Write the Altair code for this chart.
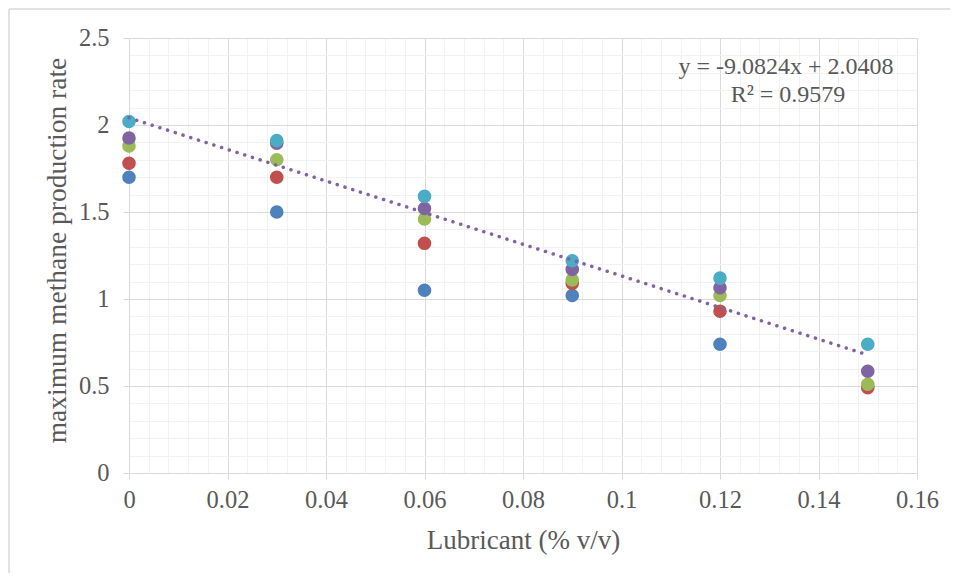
import altair as alt
import pandas as pd

# ---- data ----
lubricant = [0, 0.03, 0.06, 0.09, 0.12, 0.15]
series_names = ["Series1", "Series2", "Series3", "Series4", "Series5"]
series1 = [1.70, 1.50, 1.05, 1.02, 0.74, 0.50]
series2 = [1.78, 1.70, 1.32, 1.09, 0.93, 0.49]
series3 = [1.88, 1.80, 1.46, 1.11, 1.02, 0.51]
series4 = [1.925, 1.895, 1.52, 1.17, 1.065, 0.585]
series5 = [2.02, 1.91, 1.59, 1.22, 1.12, 0.74]
series_colors = ["#4F81BD", "#C0504D", "#9BBB59", "#8064A2", "#4BACC6"]

x_major = [0, 0.02, 0.04, 0.06, 0.08, 0.1, 0.12, 0.14, 0.16]
x_minor = [round(i * 0.004, 3) for i in range(41)]
y_major = [0, 0.5, 1, 1.5, 2, 2.5]
y_minor = [round(i * 0.1, 1) for i in range(26)]

equation_line1 = "y = -9.0824x + 2.0408"
equation_line2 = "R² = 0.9579"

rows = []
for name, vals in zip(series_names, [series1, series2, series3, series4, series5]):
    for xv, yv in zip(lubricant, vals):
        rows.append({"series": name, "x": xv, "y": yv})
df = pd.DataFrame(rows)

FONT = "Liberation Serif"
TXT = "#595959"
GRID = "#d9d9d9"
MINOR = "#f2f2f2"

xscale = alt.Scale(domain=[0, 0.16], nice=False, zero=False)
yscale = alt.Scale(domain=[0, 2.5], nice=False, zero=False)

base = alt.Chart(df)

minor_grid = base.mark_circle(opacity=0).encode(
    x=alt.X("x:Q", scale=xscale, axis=alt.Axis(
        orient="bottom", values=x_minor, grid=True, gridColor=MINOR, gridWidth=1,
        labels=False, ticks=False, domain=False, title=None)),
    y=alt.Y("y:Q", scale=yscale, axis=alt.Axis(
        orient="left", values=y_minor, grid=True, gridColor=MINOR, gridWidth=1,
        labels=False, ticks=False, domain=False, title=None)),
)

points = base.mark_circle(opacity=1, size=185).encode(
    x=alt.X("x:Q", scale=xscale, axis=alt.Axis(
        orient="bottom", values=x_major, format="~g", grid=True, gridColor=GRID,
        domainColor=GRID, tickColor=GRID, tickSize=6, labelPadding=9,
        labelFlush=False, labelOverlap=False,
        labelFont=FONT, labelFontSize=24.5, labelColor=TXT,
        title="Lubricant (% v/v)", titleFont=FONT, titleFontSize=27,
        titleFontWeight="normal", titleColor=TXT, titlePadding=16)),
    y=alt.Y("y:Q", scale=yscale, axis=alt.Axis(
        orient="left", values=y_major, format="~g", grid=True, gridColor=GRID,
        domainColor=GRID, tickColor=GRID, tickSize=6, labelPadding=14,
        labelFlush=False, labelOverlap=False,
        labelFont=FONT, labelFontSize=24.5, labelColor=TXT,
        title="maximum methane production rate", titleFont=FONT, titleFontSize=27.5,
        titleFontWeight="normal", titleColor=TXT, titlePadding=7, titleY=212)),
    color=alt.Color("series:N", scale=alt.Scale(domain=series_names, range=series_colors),
                    legend=None),
)

trend = base.transform_filter(
    alt.datum.series == "Series4"
).transform_regression("x", "y", extent=[0, 0.15]).mark_line(
    color="#8064A2", strokeWidth=3.5, strokeDash=[0.1, 8], strokeCap="round"
).encode(
    x=alt.X("x:Q", scale=xscale, axis=None),
    y=alt.Y("y:Q", scale=yscale, axis=None),
)

one = pd.DataFrame({"k": [0]})
eq1 = alt.Chart(one).mark_text(
    font=FONT, fontSize=24, color=TXT, align="center", baseline="alphabetic",
    text=equation_line1
).encode(x=alt.value(657), y=alt.value(36))
eq2 = alt.Chart(one).mark_text(
    font=FONT, fontSize=24, color=TXT, align="center", baseline="alphabetic",
    text=equation_line2
).encode(x=alt.value(659), y=alt.value(64))

border_left = alt.Chart(one).mark_rule(color=GRID, strokeWidth=1.5).encode(
    x=alt.value(-120), y=alt.value(-29), y2=alt.value(560))
border_top = alt.Chart(one).mark_rule(color=GRID, strokeWidth=1.5).encode(
    x=alt.value(-120), x2=alt.value(840), y=alt.value(-29))

chart = alt.layer(
    minor_grid, points, trend, eq1, eq2, border_left, border_top
).resolve_axis(x="independent", y="independent").properties(
    width=788, height=435,
    autosize=alt.AutoSizeParams(type="none"),
    padding={"left": 121, "top": 30, "right": 33, "bottom": 100},
).configure_view(stroke=None).configure(background="white")

chart.save("out.html", embed_options={"renderer": "svg", "actions": False})
